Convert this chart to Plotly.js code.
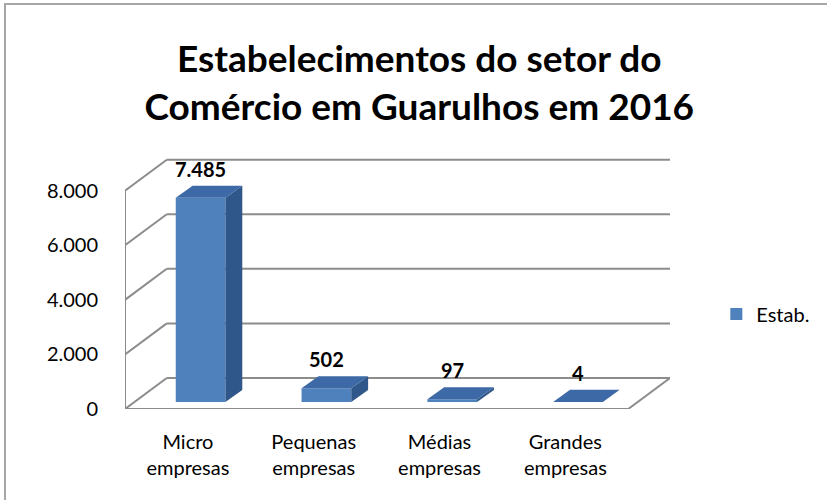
<!DOCTYPE html>
<html>
<head>
<meta charset="utf-8">
<script src="https://cdn.plot.ly/plotly-3.0.1.min.js"></script>
<style>
  html, body { margin: 0; padding: 0; background: #fff; }
  #wrap { position: relative; width: 827px; height: 500px; overflow: hidden; }
  #chart { width: 827px; height: 500px; }
  #frame { position: absolute; left: 4px; top: 3px; width: 900px; height: 600px;
           border-left: 2px solid #a6a6a6; border-top: 2px solid #a6a6a6; pointer-events: none; }
</style>
</head>
<body>
<div id="wrap">
  <div id="chart"></div>
  <div id="frame"></div>
</div>
<script>
// ---- data ----
const categories = ['Micro empresas', 'Pequenas empresas', 'Médias empresas', 'Grandes empresas'];
const values = [7485, 502, 97, 4];
const seriesName = 'Estab.';
const yTicks = [0, 2000, 4000, 6000, 8000];

// ---- 3D styling geometry (axis units) ----
const X_FRONT_START = -0.5, X_FRONT_END = 3.5;
const WALL_DX = 0.332, WALL_DY = 1138;     // depth of floor/back wall
const BAR_DX0 = 0.1008, BAR_DY0 = 257;     // bar front-face offset into depth
const BAR_W = 0.395;                       // bar width
const BAR_DDX = 0.134, BAR_DDY = 440;      // bar depth
const FRONT = '#4F81BD', SIDE = '#30578A', TOP = '#3D6AA6', GRID = '#8c8c8c';

function fmt(v) { return String(v).replace(/\B(?=(\d{3})+(?!\d))/g, '.'); }

const xs = categories.map((c, i) => i + BAR_DX0);

const traces = [{
  type: 'bar', name: seriesName, x: xs, y: values, base: BAR_DY0, width: BAR_W,
  marker: { color: FRONT, line: { width: 0 } }, showlegend: true, hoverinfo: 'skip'
}];

values.forEach((v, i) => {
  const xl = xs[i] - BAR_W / 2, xr = xs[i] + BAR_W / 2;
  const b = BAR_DY0, t = BAR_DY0 + v;
  // side face
  traces.push({
    type: 'scatter', mode: 'lines', fill: 'toself', fillcolor: SIDE, line: { width: 0, color: SIDE },
    x: [xr, xr + BAR_DDX, xr + BAR_DDX, xr, xr],
    y: [b, b + BAR_DDY, t + BAR_DDY, t, b], showlegend: false, hoverinfo: 'skip'
  });
  // top face
  traces.push({
    type: 'scatter', mode: 'lines', fill: 'toself', fillcolor: TOP, line: { width: 0, color: TOP },
    x: [xl, xl + BAR_DDX, xr + BAR_DDX, xr, xl],
    y: [t, t + BAR_DDY, t + BAR_DDY, t, t], showlegend: false, hoverinfo: 'skip'
  });
});

// walls & gridlines as shapes below the traces
const shapes = [];
function seg(x0, y0, x1, y1) {
  shapes.push({ type: 'line', xref: 'x', yref: 'y', x0, y0, x1, y1, layer: 'below',
                line: { color: GRID, width: 2 } });
}
const xBack = X_FRONT_START + WALL_DX, xBackEnd = X_FRONT_END + WALL_DX;
yTicks.forEach(v => {
  seg(X_FRONT_START, v, xBack, v + WALL_DY);
  seg(xBack, v + WALL_DY, xBackEnd, v + WALL_DY);
});
seg(X_FRONT_START, 0, X_FRONT_START, yTicks[yTicks.length - 1]);
seg(X_FRONT_START, 0, X_FRONT_END, 0);
seg(X_FRONT_END, 0, xBackEnd, WALL_DY);

const annotations = values.map((v, i) => ({
  x: xs[i], y: BAR_DY0 + v + BAR_DDY, xref: 'x', yref: 'y', text: '<b>' + fmt(v) + '</b>',
  showarrow: false, yanchor: 'bottom', yshift: 3,
  font: { family: 'Lato, sans-serif', size: 20, color: '#000' }
}));

const layout = {
  width: 827, height: 500,
  margin: { l: 125, r: 154, t: 158, b: 91 },
  paper_bgcolor: '#fff', plot_bgcolor: 'rgba(0,0,0,0)',
  separators: ',.',
  font: { family: 'Lato, sans-serif', size: 20, color: '#000' },
  title: {
    text: 'Estabelecimentos do setor do<br>Comércio em Guarulhos em 2016',
    font: { family: 'Lato, sans-serif', size: 37, color: '#000', weight: 'bold' },
    x: 0.507, xanchor: 'center', xref: 'container', y: 0.856, yanchor: 'top', yref: 'container'
  },
  xaxis: {
    range: [X_FRONT_START, xBackEnd], showgrid: false, zeroline: false, showline: false,
    tickmode: 'array', tickvals: categories.map((c, i) => i),
    ticktext: categories.map(c => c.replace(' ', '<br>')),
    ticks: '', ticklabelstandoff: 19, fixedrange: true,
    tickfont: { family: 'Lato, sans-serif', size: 20, color: '#000' }
  },
  yaxis: {
    range: [0, 9200], showgrid: false, zeroline: false, showline: false,
    tickmode: 'array', tickvals: yTicks, tickformat: ',', ticks: '', ticklabelstandoff: 26,
    fixedrange: true, tickfont: { family: 'Lato, sans-serif', size: 20, color: '#000' }
  },
  showlegend: true,
  legend: {
    x: 1.085, xanchor: 'left', y: 0.378, yanchor: 'middle',
    font: { family: 'Lato, sans-serif', size: 20, color: '#000' }, bgcolor: 'rgba(0,0,0,0)'
  },
  shapes, annotations
};

Plotly.newPlot('chart', traces, layout, { displayModeBar: false, staticPlot: true });
</script>
</body>
</html>
